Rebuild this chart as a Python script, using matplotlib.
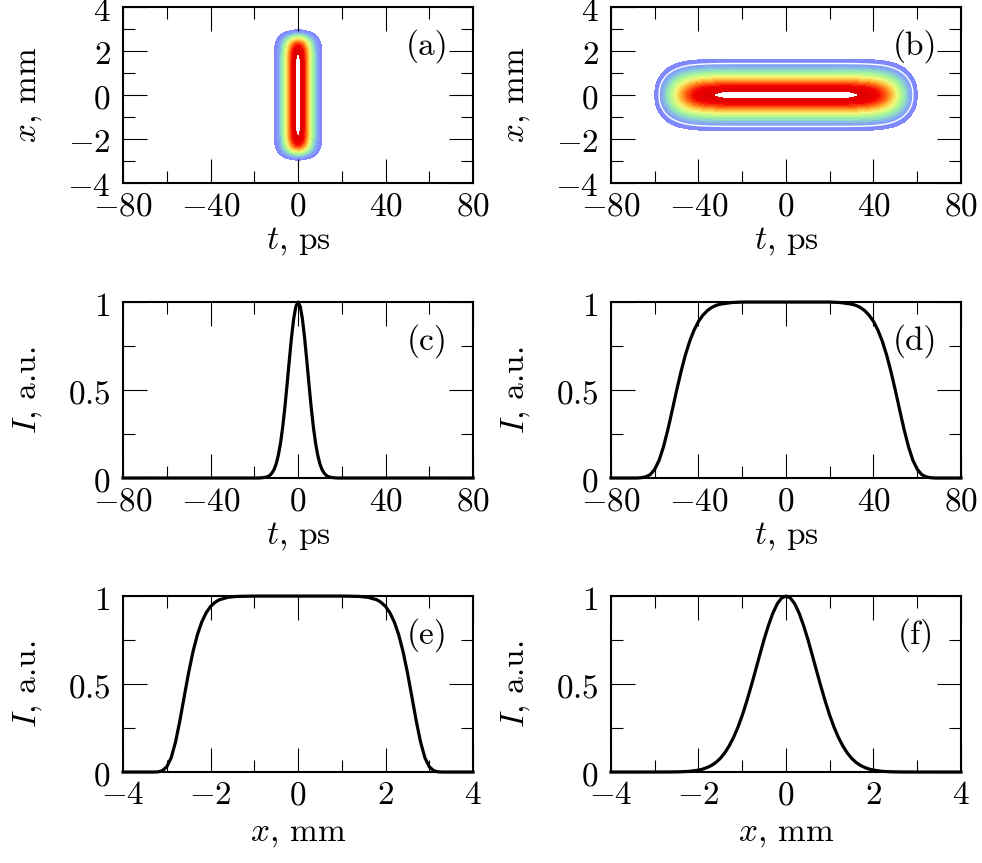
import numpy as np
import matplotlib
matplotlib.use("Agg")
import matplotlib.pyplot as plt
from matplotlib.colors import LinearSegmentedColormap, Normalize
from matplotlib.ticker import MultipleLocator
from matplotlib.transforms import ScaledTranslation

plt.rcParams["mathtext.fontset"] = "cm"
plt.rcParams["font.family"] = "serif"
plt.rcParams["font.serif"] = ["cmr10", "DejaVu Serif"]
plt.rcParams["axes.formatter.use_mathtext"] = True

# beam 1: short gaussian pulse in time, flat-top in space
t_c = [-80, -20, -18, -16, -15, -14, -13, -12, -11, -10, -9, -8, -7, -6, -5, -4, -3, -2, -1, 0,
       1, 2, 3, 4, 5, 6, 7, 8, 9, 10, 11, 12, 13, 14, 15, 16, 18, 20, 80]
I_c = [0.0, 0.0, 0.0, 0.002, 0.004, 0.007, 0.014, 0.027, 0.047, 0.080, 0.130, 0.199, 0.291, 0.404,
       0.533, 0.668, 0.797, 0.904, 0.975, 1.0,
       0.975, 0.904, 0.797, 0.668, 0.533, 0.404, 0.291, 0.199, 0.130, 0.080, 0.047, 0.027, 0.014,
       0.007, 0.004, 0.002, 0.0, 0.0, 0.0]

x_e = [-4.0, -3.6, -3.3, -3.2, -3.1, -3.0, -2.9, -2.8, -2.7, -2.6, -2.5, -2.4, -2.3, -2.2, -2.1,
       -2.0, -1.9, -1.8, -1.6, -1.4, -1.0, 0.0, 1.0, 1.4, 1.6, 1.8, 1.9, 2.0, 2.1, 2.2, 2.3, 2.4,
       2.5, 2.6, 2.7, 2.8, 2.9, 3.0, 3.1, 3.2, 3.3, 3.6, 4.0]
I_e = [0.0, 0.0, 0.0, 0.001, 0.008, 0.030, 0.081, 0.171, 0.293, 0.431, 0.566, 0.685, 0.781, 0.853,
       0.905, 0.941, 0.964, 0.979, 0.993, 0.998, 1.0, 1.0, 1.0, 0.998, 0.993, 0.979, 0.964, 0.941,
       0.905, 0.853, 0.781, 0.685, 0.566, 0.431, 0.293, 0.171, 0.081, 0.030, 0.008, 0.001, 0.0,
       0.0, 0.0]

# beam 2: long flat-top pulse in time, gaussian in space
t_d = [-80, -70, -68, -66, -64, -62, -60, -58, -56, -54, -52, -50, -48, -46, -44, -42, -40, -38,
       -36, -34, -32, -30, -25, -20, -10, 0, 10, 20, 25, 30, 32, 34, 36, 38, 40, 42, 44, 46, 48,
       50, 52, 54, 56, 58, 60, 62, 64, 66, 68, 70, 80]
I_d = [0.0, 0.0, 0.0, 0.002, 0.007, 0.020, 0.050, 0.101, 0.178, 0.275, 0.385, 0.498, 0.604, 0.699,
       0.778, 0.841, 0.890, 0.925, 0.951, 0.969, 0.981, 0.988, 0.997, 1.0, 1.0, 1.0, 1.0, 1.0,
       0.997, 0.988, 0.981, 0.969, 0.951, 0.925, 0.890, 0.841, 0.778, 0.699, 0.604, 0.498, 0.385,
       0.275, 0.178, 0.101, 0.050, 0.020, 0.007, 0.002, 0.0, 0.0, 0.0]

x_f = [-4.0, -3.0, -2.6, -2.4, -2.2, -2.0, -1.9, -1.8, -1.7, -1.6, -1.5, -1.4, -1.3, -1.2, -1.1,
       -1.0, -0.9, -0.8, -0.7, -0.6, -0.5, -0.4, -0.3, -0.2, -0.1, 0.0, 0.1, 0.2, 0.3, 0.4, 0.5,
       0.6, 0.7, 0.8, 0.9, 1.0, 1.1, 1.2, 1.3, 1.4, 1.5, 1.6, 1.7, 1.8, 1.9, 2.0, 2.2, 2.4, 2.6,
       3.0, 4.0]
I_f = [0.0, 0.0, 0.0005, 0.0015, 0.004, 0.011, 0.017, 0.026, 0.038, 0.055, 0.078, 0.109, 0.148,
       0.196, 0.254, 0.322, 0.400, 0.485, 0.574, 0.665, 0.754, 0.834, 0.903, 0.956, 0.989, 1.0,
       0.989, 0.956, 0.903, 0.834, 0.754, 0.665, 0.574, 0.485, 0.400, 0.322, 0.254, 0.196, 0.148,
       0.109, 0.078, 0.055, 0.038, 0.026, 0.017, 0.011, 0.004, 0.0015, 0.0005, 0.0, 0.0]

t_ticks = [-80, -40, 0, 40, 80]
t_labels = [r"$-80$", r"$-40$", r"$0$", r"$40$", r"$80$"]
x_ticks = [-4, -2, 0, 2, 4]
x_labels = [r"$-4$", r"$-2$", r"$0$", r"$2$", r"$4$"]
I_ticks = [0, 0.5, 1]
I_labels = [r"$0$", r"$0.5$", r"$1$"]

fs = 24
cmap = LinearSegmentedColormap.from_list("beam", [
    (0.0, "#8080ff"), (0.109, "#84a8f4"), (0.217, "#8ee0c0"), (0.326, "#b0f890"),
    (0.457, "#f0f87a"), (0.598, "#ffb838"), (0.728, "#ff5c10"), (0.859, "#f20000"),
    (1.0, "#dc0000")])
norm = Normalize(0.05, 0.98)
levels = np.linspace(0.05, 0.98, 24)

fig = plt.figure(figsize=(9.82, 8.63), dpi=100)
lefts = [0.1253, 0.6222]
bottoms = [0.7880, 0.4461, 0.1054]
w, h = 0.3564, 0.2039
axs = [[fig.add_axes([l, b, w, h]) for l in lefts] for b in bottoms]
down = ScaledTranslation(0, -2 / 100, fig.dpi_scale_trans)


def style(ax, xt, xl, xmin, yt, yl, ymin, xlab, ylab, tag, xpad):
    ax.set_xticks(xt, labels=xl)
    ax.set_yticks(yt, labels=yl)
    ax.xaxis.set_minor_locator(MultipleLocator(xmin))
    ax.yaxis.set_minor_locator(MultipleLocator(ymin))
    ax.set_xlim(xt[0], xt[-1])
    ax.set_ylim(yt[0], yt[-1])
    ax.tick_params(which="both", direction="in", top=True, right=True, width=0.8,
                   labelsize=fs)
    ax.tick_params(which="major", length=17, pad=6.5)
    ax.tick_params(which="minor", length=8.5)
    ax.tick_params(axis="y", which="major", pad=9)
    for lab in ax.get_yticklabels():
        lab.set_transform(lab.get_transform() + down)
    for s in ax.spines.values():
        s.set_linewidth(1.5)
    ax.set_xlabel(xlab, fontsize=fs, labelpad=xpad)
    ax.set_ylabel(ylab, fontsize=fs)
    ax.yaxis.set_label_coords(-0.226, 0.5)
    ax.text(0.87, 0.78, tag, transform=ax.transAxes, fontsize=fs,
            ha="center", va="center")


lab_t = r"$t$, ps"
lab_x = r"$x$, mm"
lab_I = r"$I$, a.u."

# (a) and (b): intensity maps
for ax, tt, It, xx, Ix, tag in [(axs[0][0], t_c, I_c, x_e, I_e, "(a)"),
                                (axs[0][1], t_d, I_d, x_f, I_f, "(b)")]:
    Z = np.outer(Ix, It)
    ax.contourf(tt, xx, Z, levels=levels, cmap=cmap, norm=norm)
    ax.contourf(tt, xx, Z, levels=[0.98, 1.01], colors="white")
    style(ax, t_ticks, t_labels, 20, x_ticks, x_labels, 1, lab_t, lab_x, tag, 3)
axs[0][1].contour(t_d, x_f, np.outer(I_f, I_d), levels=[0.1], colors="white",
                  linewidths=1)

# (c)-(f): profiles
prof = [(axs[1][0], t_c, I_c, t_ticks, t_labels, 20, lab_t, "(c)", 3),
        (axs[1][1], t_d, I_d, t_ticks, t_labels, 20, lab_t, "(d)", 3),
        (axs[2][0], x_e, I_e, x_ticks, x_labels, 1, lab_x, "(e)", 7),
        (axs[2][1], x_f, I_f, x_ticks, x_labels, 1, lab_x, "(f)", 7)]
for ax, xx, yy, xt, xl, xm, xlab, tag, xpad in prof:
    ax.plot(xx, yy, color="black", lw=2.3, clip_on=False)
    style(ax, xt, xl, xm, I_ticks, I_labels, 0.25, xlab, lab_I, tag, xpad)

fig.savefig("out.png", dpi=100)
